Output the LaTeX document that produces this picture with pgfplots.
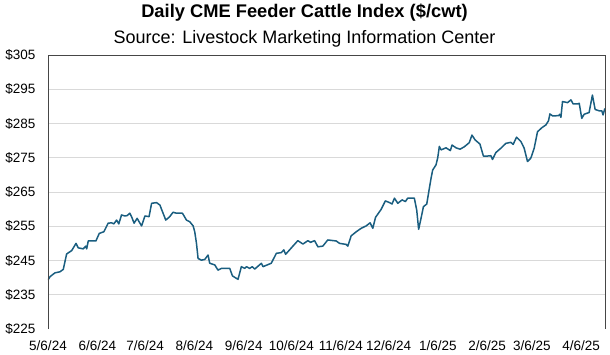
\documentclass[border=0pt]{standalone}
\usepackage{pgfplots}
\pgfplotsset{compat=1.18}
\usepackage{fontspec}
\setmainfont{Liberation Sans}
\definecolor{linec}{RGB}{26,94,128}
\definecolor{gridc}{RGB}{217,217,217}
\definecolor{boxc}{RGB}{70,70,70}
\begin{document}
\begin{tikzpicture}
\path[use as bounding box] (-48bp,-26bp) rectangle (562bp,329bp);
\begin{axis}[
  scale only axis,
  at={(0,0)}, anchor=south west,
  width=557bp, height=274bp,
  xmin=0, xmax=350, ymin=225, ymax=305,
  axis line style={draw=none},
  ytick={225,235,...,305},
  yticklabels={\$225,\$235,\$245,\$255,\$265,\$275,\$285,\$295,\$305},
  extra y ticks={235,245,...,295},
  extra y tick labels={},
  extra y tick style={grid=major},
  xtick={0,31,61,92,123,153,184,214,245,276,304,335},
  xticklabels={5/6/24,6/6/24,7/6/24,8/6/24,9/6/24,10/6/24,11/6/24,12/6/24,1/6/25,2/6/25,3/6/25,4/6/25},
  tick style={draw=none},
  ticklabel style={font=\fontsize{13.5bp}{16bp}\selectfont},
  yticklabel style={xshift=-9bp},
  xticklabel style={yshift=-8bp},
  grid style={gridc, line width=0.9bp},
  title={\bfseries\fontsize{18.3bp}{20bp}\selectfont Daily CME Feeder Cattle Index (\$/cwt)},
  title style={inner sep=0pt, at={(axis description cs:0.4605,1)}, anchor=base, yshift=32bp},
  after end axis/.code={
    \draw[boxc, line width=0.9bp] (rel axis cs:0,0) -- (rel axis cs:0,1) -- (rel axis cs:1,1) -- (rel axis cs:1,0);
    \node[inner sep=0pt, anchor=base, font=\fontsize{18bp}{20bp}\selectfont] at ([yshift=12bp]rel axis cs:0.4605,1) {Source: Livestock Marketing Information Center};
  },
]
\addplot[linec, line width=1.5bp, line join=round] coordinates {
(0,239.3) (1.3,240.3) (4.4,241.4) (7.5,241.7) (9.6,242.4) (11.7,246.9) (14.9,247.9) (17.6,250.0) (19.0,248.7) (22.1,248.4) (23.8,249.2) (24.3,248.4) (25.3,250.7) (30.1,250.7) (32.2,252.9) (35.1,253.4) (37.8,255.9) (40.0,256.0) (41.4,255.7) (43.1,256.8) (44.5,255.7) (46.2,258.3) (48.3,258.0) (49.7,258.1) (51.4,258.8) (52.5,257.8) (54.1,255.9) (56.0,257.3) (58.8,255.1) (60.9,258.0) (63.5,257.8) (65.1,261.7) (68.2,261.9) (70.3,261.2) (71.9,259.3) (74.0,256.8) (76.5,257.8) (78.6,259.1) (80.7,258.8) (84.5,258.8) (87.0,256.8) (89.1,256.3) (91.2,255.1) (92.2,253.4) (93.3,250.0) (94.3,245.6) (96.4,245.1) (98.5,245.3) (100.6,246.6) (101.6,244.2) (104.8,243.7) (106.8,242.2) (109.0,242.7) (114.2,242.7) (115.9,240.5) (119.4,239.5) (121.5,243.2) (123.6,242.7) (124.7,243.2) (126.7,242.7) (128.4,243.2) (129.9,242.5) (134.1,244.2) (135.1,243.2) (140.3,244.2) (143.5,247.1) (146.6,247.3) (148.2,248.1) (149.3,246.8) (151.8,248.1) (153.9,249.2) (157.0,250.8) (160.2,249.8) (163.3,250.8) (165.0,250.3) (167.5,250.8) (169.6,249.0) (172.7,249.2) (175.8,251.0) (181.1,250.7) (183.2,250.0) (187.4,249.7) (188.4,249.2) (190.5,252.2) (193.7,253.4) (196.8,254.4) (199.9,255.1) (202.4,256.0) (204.1,254.4) (205.8,257.6) (209.3,259.9) (212.0,262.4) (214.6,261.9) (216.2,261.5) (217.7,263.2) (219.8,261.7) (222.5,262.7) (224.6,262.2) (226.0,263.2) (230.2,263.2) (231.7,259.7) (232.9,254.1) (234.4,257.3) (235.9,260.7) (238.0,261.5) (239.6,266.0) (240.7,269.0) (241.7,271.4) (243.8,272.9) (244.9,275.0) (245.9,278.3) (247.0,277.3) (250.1,277.9) (252.8,277.1) (253.9,278.7) (256.4,277.9) (258.9,277.5) (261.6,278.2) (264.7,279.4) (266.4,281.6) (268.4,280.2) (271.4,279.0) (273.6,275.5) (276.2,275.5) (278.3,275.6) (279.3,274.5) (281.4,276.5) (284.6,277.8) (287.7,279.2) (290.8,279.5) (292.3,278.9) (294.4,281.0) (297.2,279.7) (299.2,277.8) (301.3,273.9) (303.4,274.9) (305.5,277.8) (307.6,282.6) (310.4,283.8) (312.9,284.6) (314.5,285.8) (315.4,287.8) (317.1,287.2) (320.8,287.3) (321.6,287.7) (322.3,286.8) (323.3,291.4) (326.5,291.1) (328.6,291.9) (330.0,290.7) (332.7,290.7) (333.8,290.9) (335.4,286.5) (336.9,287.7) (340.0,288.2) (342.1,293.3) (343.8,289.1) (346.3,288.7) (348.0,288.7) (348.8,287.5) (349.9,289.4)
};
\end{axis}
\end{tikzpicture}
\end{document}
